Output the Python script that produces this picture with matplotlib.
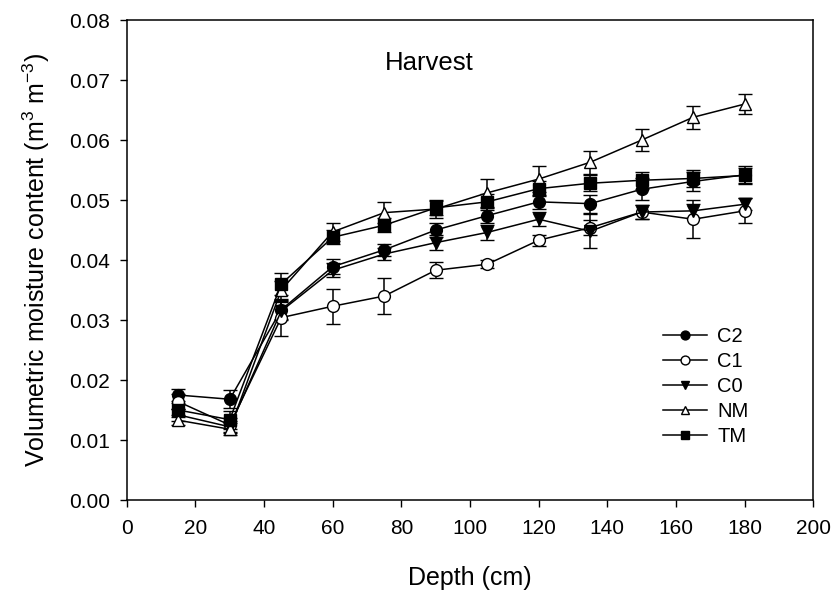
import numpy as np
from matplotlib import pyplot as plt

plt.rcParams['font.family'] = ['Liberation Sans', 'DejaVu Sans']
plt.rcParams['mathtext.fontset'] = 'custom'
plt.rcParams['mathtext.rm'] = 'Liberation Sans'
plt.rcParams['mathtext.default'] = 'regular'

depth = [15, 30, 45, 60, 75, 90, 105, 120, 135, 150, 165, 180]

c2 = [0.0175, 0.0168, 0.0317, 0.0389, 0.0417, 0.0450, 0.0474, 0.0497, 0.0494, 0.0518, 0.0531, 0.0542]
c2_err = [0.0010, 0.0015, 0.0015, 0.0012, 0.0010, 0.0012, 0.0013, 0.0012, 0.0015, 0.0018, 0.0016, 0.0015]

c1 = [0.0164, 0.0125, 0.0304, 0.0323, 0.0340, 0.0383, 0.0393, 0.0433, 0.0454, 0.0480, 0.0468, 0.0482]
c1_err = [0.0012, 0.0012, 0.0030, 0.0029, 0.0030, 0.0013, 0.0007, 0.0009, 0.0012, 0.0011, 0.0032, 0.0021]

c0 = [0.0142, 0.0122, 0.0315, 0.0383, 0.0410, 0.0429, 0.0446, 0.0468, 0.0448, 0.0480, 0.0482, 0.0493]
c0_err = [0.0010, 0.0010, 0.0015, 0.0012, 0.0010, 0.0012, 0.0012, 0.0012, 0.0028, 0.0011, 0.0012, 0.0010]

nm = [0.0133, 0.0118, 0.0350, 0.0447, 0.0479, 0.0485, 0.0512, 0.0535, 0.0563, 0.0600, 0.0638, 0.0660]
nm_err = [0.0008, 0.0010, 0.0015, 0.0015, 0.0018, 0.0015, 0.0023, 0.0022, 0.0019, 0.0019, 0.0019, 0.0016]

tm = [0.0150, 0.0134, 0.0360, 0.0438, 0.0458, 0.0487, 0.0497, 0.0519, 0.0528, 0.0533, 0.0536, 0.0541]
tm_err = [0.0012, 0.0015, 0.0018, 0.0012, 0.0012, 0.0012, 0.0013, 0.0012, 0.0013, 0.0014, 0.0014, 0.0013]

series = [
    ("C2", c2, c2_err, 'o', 'black'),
    ("C1", c1, c1_err, 'o', 'white'),
    ("C0", c0, c0_err, 'v', 'black'),
    ("NM", nm, nm_err, '^', 'white'),
    ("TM", tm, tm_err, 's', 'black'),
]

fig = plt.figure(figsize=(8.36, 5.90), dpi=100)
ax = fig.add_axes([0.1516, 0.1525, 0.8213, 0.8135])

for name, y, err, mk, fc in series:
    ax.errorbar(depth, y, yerr=err, color='black', lw=1.1, marker=mk,
                markersize=8.5, markerfacecolor=fc, markeredgecolor='black',
                markeredgewidth=1.0, capsize=5, capthick=1.1, elinewidth=1.1,
                label=name)

ax.set_xlim(0, 200)
ax.set_ylim(0, 0.08)
ax.set_xticks(np.arange(0, 201, 20))
ax.set_yticks(np.arange(0, 0.081, 0.01))
ax.set_yticklabels(["%.2f" % v for v in np.arange(0, 0.081, 0.01)])
ax.tick_params(labelsize=15, direction='out', length=5, width=1, pad=7)
ax.tick_params(axis='x', pad=9)
for s in ax.spines.values():
    s.set_linewidth(1.1)

ax.set_xlabel("Depth (cm)", fontsize=18, labelpad=20)
ax.set_ylabel("Volumetric moisture content (m$^3$ m$^{-3}$)", fontsize=18, labelpad=12)

ax.text(75.2, 0.0728, "Harvest", fontsize=18.5, va='center', ha='left')

handles, labels = ax.get_legend_handles_labels()
handles = [h[0] for h in handles]
leg = ax.legend(handles, labels, loc='center left', bbox_to_anchor=(0.781, 0.2365),
                frameon=False, fontsize=14.5, handlelength=2.2, handletextpad=0.5,
                labelspacing=0.3, borderpad=0, borderaxespad=0, markerscale=0.75)

fig.savefig("out.png", dpi=100)
